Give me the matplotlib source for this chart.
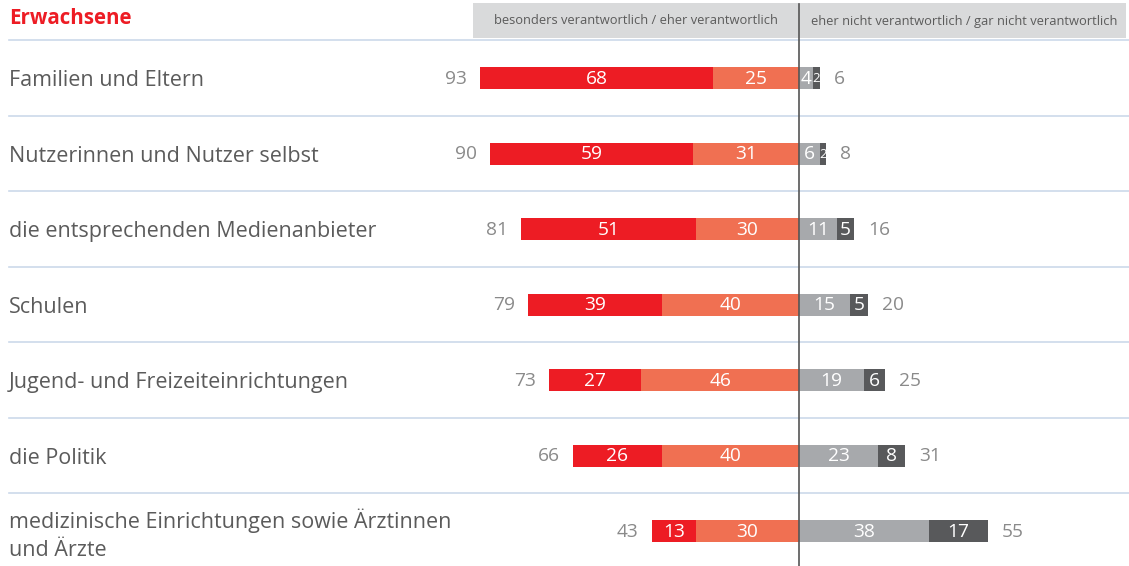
import matplotlib
matplotlib.use("Agg")
import matplotlib.pyplot as plt
from matplotlib.patches import Rectangle

plt.rcParams['font.family'] = ['Open Sans', 'DejaVu Sans']

title = "Erwachsene"
header_left = "besonders verantwortlich / eher verantwortlich"
header_right = "eher nicht verantwortlich / gar nicht verantwortlich"
categories = [
    "Familien und Eltern",
    "Nutzerinnen und Nutzer selbst",
    "die entsprechenden Medienanbieter",
    "Schulen",
    "Jugend- und Freizeiteinrichtungen",
    "die Politik",
    "medizinische Einrichtungen sowie Ärztinnen\nund Ärzte",
]
besonders = [68, 59, 51, 39, 27, 26, 13]
eher = [25, 31, 30, 40, 46, 40, 30]
eher_nicht = [4, 6, 11, 15, 19, 23, 38]
gar_nicht = [2, 2, 5, 5, 6, 8, 17]
total_pos = [93, 90, 81, 79, 73, 66, 43]
total_neg = [6, 8, 16, 20, 25, 31, 55]

C_RED = "#ED1C24"
C_SALMON = "#F07052"
C_LGRAY = "#A7A9AC"
C_DGRAY = "#58595B"
C_TEXT = "#5B5B5B"
C_TOT = "#8A8A8A"
C_SEP = "#CCD9EA"

W, H = 1129, 566
fig = plt.figure(figsize=(W / 100, H / 100), dpi=100)
ax = fig.add_axes([0, 0, 1, 1])
ax.axis("off")

px = 3.43          # pixels per percentage point
x0 = 799           # pixel position of zero
row0, rowstep = 78, 75.5
ax.set_xlim(-x0 / px, (W - x0) / px)
ax.set_ylim((H - row0) / rowstep, -row0 / rowstep)

def px2x(p):
    return (p - x0) / px

def py2y(p):
    return (p - row0) / rowstep

n = len(categories)
bh = 22 / rowstep
ys = list(range(n))

# header
ax.add_patch(Rectangle((px2x(473), py2y(3)), (1126 - 473) / px, (38 - 3) / rowstep,
                       facecolor="#D9DADB", edgecolor="none", zorder=0))
ax.text(px2x(636), py2y(21), header_left, ha="center", va="center", fontsize=9.3,
        color=C_TEXT)
ax.text(px2x(964), py2y(21), header_right, ha="center", va="center", fontsize=9.3,
        color=C_TEXT)
ax.text(px2x(9), py2y(19), title, ha="left", va="center", fontsize=14.8,
        fontweight="bold", color=C_RED)

# separators
for i in range(n):
    yl = i - 0.5
    ax.plot([px2x(9), px2x(W)], [yl, yl], color=C_SEP, lw=1.2, zorder=1)

# bars
neg_b = [-(a + b) for a, b in zip(besonders, eher)]
neg_e = [-b for b in eher]
ax.barh(ys, besonders, left=neg_b, height=bh, color=C_RED, zorder=2)
ax.barh(ys, eher, left=neg_e, height=bh, color=C_SALMON, zorder=2)
ax.barh(ys, eher_nicht, left=0, height=bh, color=C_LGRAY, zorder=2)
ax.barh(ys, gar_nicht, left=eher_nicht, height=bh, color=C_DGRAY, zorder=2)

def seg_label(xc, y, v):
    fs = 13.8 if v >= 3 else 9.5
    ax.text(xc, y + 0.01, str(v), ha="center", va="center", color="white",
            fontsize=fs, zorder=3)

for i in ys:
    seg_label(neg_b[i] + besonders[i] / 2, i, besonders[i])
    seg_label(neg_e[i] + eher[i] / 2, i, eher[i])
    seg_label(eher_nicht[i] / 2, i, eher_nicht[i])
    seg_label(eher_nicht[i] + gar_nicht[i] / 2, i, gar_nicht[i])
    ax.text(-(besonders[i] + eher[i]) - 13 / px, i + 0.01, str(total_pos[i]),
            ha="right", va="center", color=C_TOT, fontsize=13.8)
    ax.text(eher_nicht[i] + gar_nicht[i] + 14 / px, i + 0.01, str(total_neg[i]),
            ha="left", va="center", color=C_TOT, fontsize=13.8)
    ax.text(px2x(9), i + 0.035 if i < n - 1 else i + 0.045, categories[i], ha="left",
            va="center", color=C_TEXT, fontsize=15.5, linespacing=1.42)

# zero line
ax.plot([0, 0], [py2y(4), py2y(H)], color="#555555", lw=1.2, zorder=4)

fig.savefig("out.png", dpi=100)
